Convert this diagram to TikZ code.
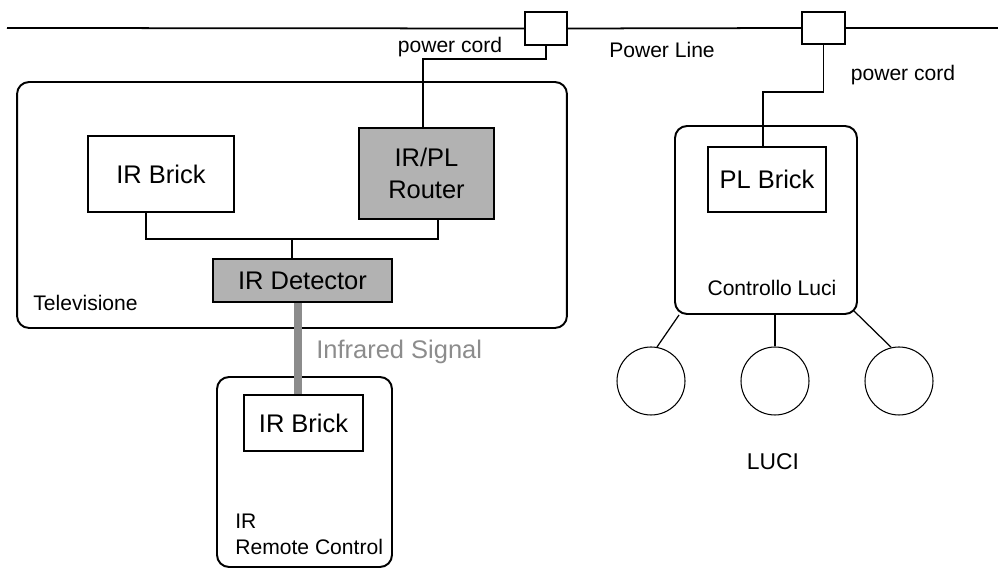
\documentclass[tikz,border=0pt]{standalone}
\usepackage{fontspec}
\setmainfont{Liberation Sans}
\colorlet{dither}{black!30}
\colorlet{irgray}{black!45}
\newcommand\bigtxt{\fontsize{14.5}{18}\selectfont}
\newcommand\smalltxt{\fontsize{12}{14.7}\selectfont}

\begin{document}
\begin{tikzpicture}[x=0.02cm, y=-0.02cm,
    brick/.style={draw, line width=1.1pt, inner sep=0pt, font=\bigtxt},
    device/.style={draw, line width=1.1pt, rounded corners=0.24cm, inner sep=0pt},
    plug/.style={draw, line width=1pt, inner sep=0pt, minimum width=0.84cm, minimum height=0.66cm},
    lamp/.style={draw, circle, line width=0.6pt, inner sep=0pt, minimum size=1.36cm},
    wire/.style={line width=0.7pt},
    txt/.style={inner sep=0pt, font=\smalltxt}]
  \useasboundingbox (0,0) rectangle (998,573);

  % power line
  \node[plug] (plug1) at (546,28.5) {};
  \node[plug, minimum width=0.86cm, minimum height=0.64cm] (plug2) at (823.5,28) {};
  \coordinate (lineL) at (7,28);
  \coordinate (lineR) at (998,28);
  \draw[line width=1pt] (lineL) -- (plug1.west) (plug1.east) -- (plug2.west) (plug2.east) -- (lineR);
  \node[txt] (cordlbl1) at (450,47) {power cord};
  \node[txt] (linelbl) at (662,50) {Power Line};
  \node[txt] (cordlbl2) at (903,75) {power cord};

  % televisione
  \node[device, minimum width=11cm, minimum height=4.92cm] (tv) at (292,205) {};
  \node[brick, minimum width=2.92cm, minimum height=1.52cm] (irtv) at (161,174) {IR Brick};
  \node[brick, fill=dither, align=center, minimum width=2.7cm, minimum height=1.82cm] (router) at (426.5,173.5) {IR/PL\\Router};
  \node[brick, fill=dither, minimum width=3.58cm, minimum height=0.86cm] (det) at (302.5,280.5) {IR Detector};
  \node[txt, anchor=west] (tvlbl) at (33,303) {Televisione};

  \coordinate (cord1) at (423,59);
  \draw[wire] (plug1.south) |- (cord1) -- (cord1 |- router.north);
  \coordinate (busL) at (146,239);
  \coordinate (bus) at (292,239);
  \coordinate (busR) at (438,239);
  \draw[wire] (busL |- irtv.south) -- (busL) -- (busR) -- (busR |- router.south);
  \draw[wire] (bus) -- (bus |- det.north);

  % remote control
  \node[device, minimum width=3.5cm, minimum height=3.8cm] (remote) at (304.5,472) {};
  \node[brick, minimum width=2.38cm, minimum height=1.12cm] (irrc) at (303.5,423) {IR Brick};
  \node[txt, anchor=west, align=left] (rclbl) at (235,534) {IR\\Remote Control};

  \coordinate (beam) at (298,340);
  \draw[line width=5.1pt, irgray] (beam |- det.south) -- (beam |- irrc.north);
  \node[txt, font=\bigtxt, text=irgray, anchor=west] (irlbl) at (316,352) {Infrared Signal};

  % controllo luci
  \node[device, minimum width=3.64cm, minimum height=3.76cm] (ctrl) at (766,220) {};
  \node[brick, minimum width=2.36cm, minimum height=1.3cm] (plb) at (767,179.5) {PL Brick};
  \node[txt] (ctrllbl) at (772,288) {Controllo Luci};
  \coordinate (cord2) at (763,92);
  \draw[wire] (plug2.south) |- (cord2) -- (cord2 |- plb.north);

  \foreach \i/\x in {1/651,2/775,3/899}
    \node[lamp] (lamp\i) at (\x,381) {};
  \draw[wire] ([xshift=0.1cm]ctrl.south west) -- (lamp1.80);
  \draw[wire] (lamp2.north |- ctrl.south) -- (lamp2.north);
  \draw[wire] ([shift={(-0.08cm,0.08cm)}]ctrl.south east) -- (lamp3.103);
  \node[txt, font=\fontsize{13}{16}\selectfont] (luci) at (773,462) {LUCI};
\end{tikzpicture}
\end{document}
